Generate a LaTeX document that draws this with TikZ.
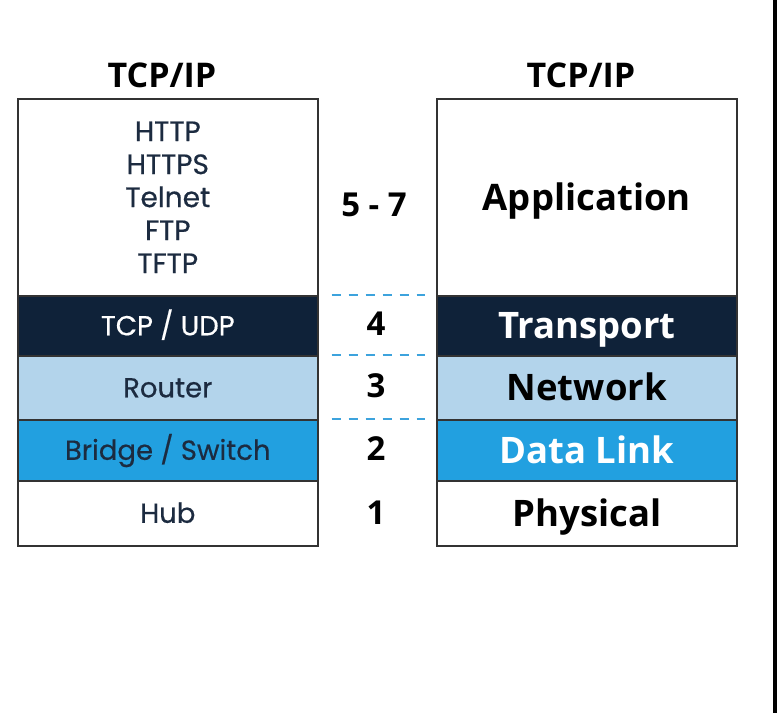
\documentclass[tikz,border=0pt]{standalone}
\usepackage{fontspec}
\setmainfont{Open Sans}
\newfontfamily\geo[FakeBold=0.5]{Poppins}
\definecolor{navy}{HTML}{0F2239}
\definecolor{paleblue}{HTML}{B3D4EB}
\definecolor{midblue}{HTML}{22A0E0}
\definecolor{dashblue}{HTML}{3DA3DD}
\definecolor{ink}{HTML}{1C2B40}
\definecolor{edge}{HTML}{333333}
\begin{document}
\begin{tikzpicture}[x=1pt,y=-1pt,
  cell/.style={draw=edge,line width=1.6pt,rectangle,minimum width=300pt,inner sep=0pt,anchor=north west},
  dev/.style={font=\geo\fontsize{27.5}{33}\selectfont,text=ink,text height=19pt,text depth=0pt},
  devlist/.style={font=\geo\fontsize{28}{33}\selectfont,text=ink},
  layer/.style={font=\bfseries\fontsize{36.5}{40}\selectfont,text=black,text height=26pt,text depth=0pt},
  num/.style={font=\bfseries\fontsize{33}{36}\selectfont},
  head/.style={font=\bfseries\fontsize{34}{38}\selectfont}]
\tikzset{sep/.style={draw=dashblue,line width=2.6pt,dash pattern=on 9pt off 8pt}}
\useasboundingbox (0,0) rectangle (777,713);
\fill[white] (0,0) rectangle (777,713);
\fill[black] (773,0) rectangle (777,713);

% left stack: devices and protocols
\node[cell,minimum height=197pt,align=center,devlist] (l7) at (17,98)
  {HTTP\\HTTPS\\Telnet\\FTP\\TFTP};
\node[cell,minimum height=60pt,fill=navy,dev,text=white] (l4) at (17,295) {TCP / UDP};
\node[cell,minimum height=64pt,fill=paleblue,dev] (l3) at (17,355) {Router};
\node[cell,minimum height=61pt,fill=midblue,dev] (l2) at (17,419) {Bridge / Switch};
\node[cell,minimum height=65pt,dev] (l1) at (17,480) {Hub};

% right stack: layer names
\node[cell,minimum height=197pt,layer] (r7) at (436,98) {Application};
\node[cell,minimum height=60pt,fill=navy,layer,text=white] (r4) at (436,295) {Transport};
\node[cell,minimum height=64pt,fill=paleblue,layer] (r3) at (436,355) {Network};
\node[cell,minimum height=61pt,fill=midblue,layer,text=white] (r2) at (436,419) {Data Link};
\node[cell,minimum height=65pt,layer] (r1) at (436,480) {Physical};

% headings
\node[head] (hl) at (162,75) {TCP/IP};
\node[head] (hr) at (581,75) {TCP/IP};

% layer numbers
\node[num] (n7) at (374,205) {5 - 7};
\node[num] (n4) at (376,324) {4};
\node[num] (n3) at (376,386) {3};
\node[num] (n2) at (376,449) {2};
\node[num] (n1) at (376,513) {1};

% dashed separators between the stacks
\draw[sep] ([xshift=13pt]l4.north east) -- ([xshift=-11pt]r4.north west);
\draw[sep] ([xshift=13pt]l3.north east) -- ([xshift=-11pt]r3.north west);
\draw[sep] ([xshift=13pt]l2.north east) -- ([xshift=-11pt]r2.north west);
\end{tikzpicture}
\end{document}
